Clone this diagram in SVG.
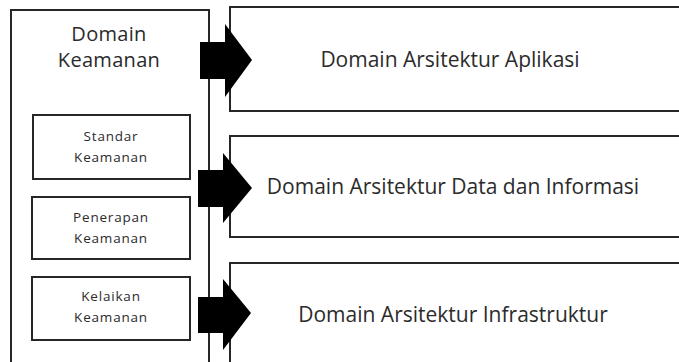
<svg xmlns="http://www.w3.org/2000/svg" width="679" height="362" viewBox="0 0 679 362">
  <style>
    .box { fill: #ffffff; stroke: #262626; stroke-width: 2; }
    .t { font-family: "Open Sans", "Noto Sans", sans-serif; fill: #2b2b2b; text-anchor: middle; }
    .big { font-size: 21px; }
    .title { font-size: 20px; letter-spacing: 0.3px; }
    .small { font-size: 13.5px; letter-spacing: 0.8px; }
    .arrow { fill: #000000; }
  </style>
  <rect x="0" y="0" width="679" height="362" fill="#ffffff"/>
  <g id="domain-keamanan">
    <rect class="box" x="11" y="10" width="198" height="362"/>
    <text class="t title" x="109" y="41">Domain</text>
    <text class="t title" x="109" y="67">Keamanan</text>
  </g>
  <g id="standar-keamanan">
    <rect class="box" x="33" y="115" width="157" height="64"/>
    <text class="t small" x="111" y="141">Standar</text>
    <text class="t small" x="111" y="162">Keamanan</text>
  </g>
  <g id="penerapan-keamanan">
    <rect class="box" x="32" y="197" width="158" height="62"/>
    <text class="t small" x="111" y="222">Penerapan</text>
    <text class="t small" x="111" y="243">Keamanan</text>
  </g>
  <g id="kelaikan-keamanan">
    <rect class="box" x="32" y="277" width="158" height="63"/>
    <text class="t small" x="111" y="301">Kelaikan</text>
    <text class="t small" x="111" y="322">Keamanan</text>
  </g>
  <g id="domain-aplikasi">
    <rect class="box" x="230" y="7" width="460" height="104"/>
    <text class="t big" x="450" y="67">Domain Arsitektur Aplikasi</text>
  </g>
  <g id="domain-data">
    <rect class="box" x="230" y="136" width="460" height="101"/>
    <text class="t big" x="453" y="194">Domain Arsitektur Data dan Informasi</text>
  </g>
  <g id="domain-infrastruktur">
    <rect class="box" x="230" y="263" width="460" height="120"/>
    <text class="t big" x="453" y="322">Domain Arsitektur Infrastruktur</text>
  </g>
  <g id="connectors">
    <polygon class="arrow" points="200,42 225,42 225,24 252,60 225,97 225,79 200,79"/>
    <polygon class="arrow" points="198,170 223,170 223,153 252,188 223,223 223,207 198,207"/>
    <polygon class="arrow" points="198,297 223,297 223,279 251,313 223,350 223,333 198,333"/>
  </g>
</svg>
